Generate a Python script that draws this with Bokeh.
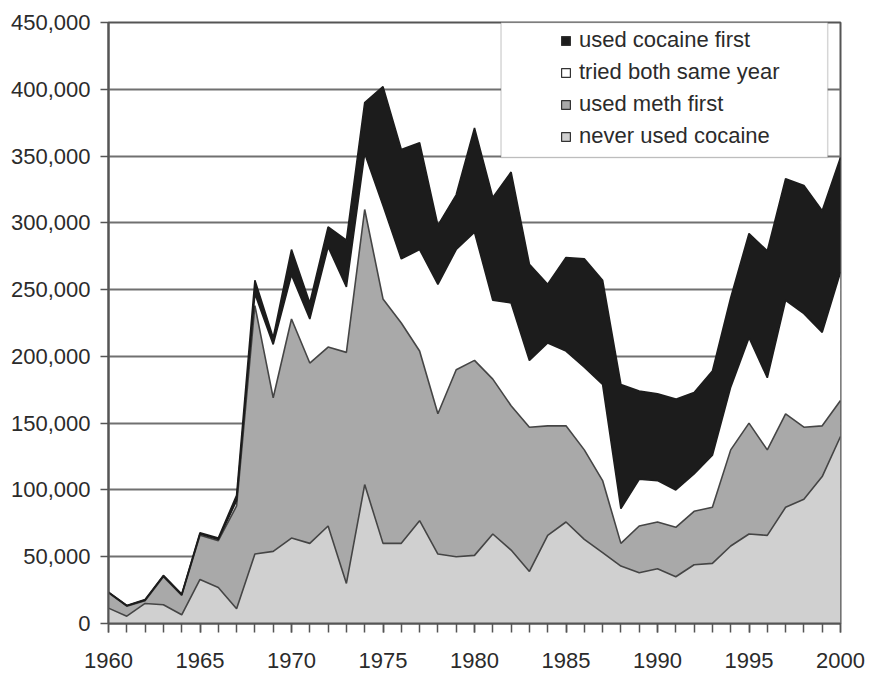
from bokeh.plotting import figure
from bokeh.models import (ColumnDataSource, FixedTicker, NumeralTickFormatter, Legend,
                          LegendItem, BoxAnnotation, Range1d)
from bokeh.transform import stack
from bokeh.embed import file_html
from bokeh.resources import INLINE

years = list(range(1960, 2001))
never_used_cocaine = [11500, 5500, 15000, 14000, 6500, 33000, 27000, 11000, 52000, 54000,
                      64000, 60000, 73000, 30000, 104000, 60000, 60000, 77000, 52000, 50000,
                      51000, 67000, 55000, 39000, 66000, 76000, 63000, 53000, 43000, 38000,
                      41000, 35000, 44000, 45000, 58000, 67000, 66000, 87000, 93000, 110000,
                      140000]
used_meth_first = [11500, 7500, 2000, 21000, 14500, 33000, 35000, 77000, 186000, 115000,
                   164000, 135000, 134000, 173000, 206000, 183000, 165000, 127000, 105000, 140000,
                   146000, 116000, 108000, 108000, 82000, 72000, 67000, 54000, 17000, 35000,
                   35000, 37000, 40000, 42000, 72000, 83000, 64000, 70000, 54000, 38000,
                   27000]
tried_both_same_year = [300, 300, 500, 500, 500, 1000, 1000, 4000, 9000, 40000,
                        33000, 33000, 75000, 49000, 42000, 70000, 48000, 76000, 97000, 90000,
                        96000, 59000, 77000, 50000, 62000, 56000, 62000, 72000, 26000, 35000,
                        31000, 28000, 28000, 39000, 47000, 64000, 54000, 85000, 85000, 70000,
                        96000]
used_cocaine_first = [200, 200, 500, 500, 500, 1000, 1000, 4000, 10000, 5000,
                      19000, 12000, 15000, 35000, 38000, 89000, 82000, 80000, 44000, 41000,
                      78000, 77000, 98000, 72000, 44000, 70000, 81000, 78000, 93000, 66000,
                      65000, 68000, 61000, 63000, 67000, 78000, 95000, 91000, 96000, 91000,
                      86000]

series_labels = ["never used cocaine", "used meth first", "tried both same year", "used cocaine first"]
series_cols = ["never", "meth", "both", "coke"]
series_colors = ["#d0d0d0", "#a9a9a9", "#ffffff", "#1c1c1c"]

y_ticks = list(range(0, 450001, 50000))
x_major = list(range(1960, 2001, 5))

source = ColumnDataSource(dict(year=years, never=never_used_cocaine, meth=used_meth_first,
                               both=tried_both_same_year, coke=used_cocaine_first))

FONT = "Liberation Sans"
TXT = "#2b2b2b"

p = figure(width=874, height=686, output_backend="svg", toolbar_location=None,
           x_range=Range1d(1960, 2000), y_range=Range1d(0, 450000),
           min_border_left=108, min_border_right=34, min_border_top=22, min_border_bottom=63)
p.background_fill_color = "white"
p.border_fill_color = "white"
p.outline_line_color = "#555555"
p.outline_line_width = 2

areas = p.varea_stack(stackers=series_cols, x="year", color=series_colors, source=source)

# boundary lines
p.line(x="year", y=stack("never"), source=source, line_color="#454545", line_width=1.6)
p.line(x="year", y=stack("never", "meth"), source=source, line_color="#454545", line_width=1.6)
p.line(x="year", y=stack("never", "meth", "both"), source=source, line_color="#1c1c1c", line_width=1.6)
p.line(x="year", y=stack("never", "meth", "both", "coke"), source=source, line_color="#1c1c1c", line_width=1.6)

# axes
p.xgrid.visible = False
p.ygrid.ticker = FixedTicker(ticks=y_ticks)
p.ygrid.grid_line_color = "#707070"
p.ygrid.grid_line_width = 2

p.yaxis.ticker = FixedTicker(ticks=y_ticks)
p.yaxis.formatter = NumeralTickFormatter(format="0,0")
p.xaxis.ticker = FixedTicker(ticks=x_major, minor_ticks=years)
for ax in (p.xaxis[0], p.yaxis[0]):
    ax.axis_line_color = "#555555"
    ax.axis_line_width = 2
    ax.major_tick_line_color = "#555555"
    ax.minor_tick_line_color = "#555555"
    ax.major_tick_line_width = 1.5
    ax.minor_tick_line_width = 1.5
    ax.major_tick_in = 0
    ax.minor_tick_in = 0
    ax.major_label_text_font = FONT
    ax.major_label_text_font_size = "22px"
    ax.major_label_text_color = TXT
p.yaxis.major_tick_out = 8
p.yaxis.minor_tick_out = 0
p.yaxis.major_label_standoff = 10
p.xaxis.major_tick_out = 9
p.xaxis.minor_tick_out = 9
p.xaxis.major_label_standoff = 20

# legend box
box = BoxAnnotation(left=1981.45, right=1999.3, bottom=349000, top=450000,
                    fill_color="white", fill_alpha=1.0, line_color="#777777", line_width=1.5)
p.add_layout(box)

nan = float("nan")
dummies = []
for col, c in zip(series_cols, series_colors):
    r = p.quad(left=[nan], right=[nan], top=[nan], bottom=[nan],
               fill_color=c, line_color="#333333", line_width=1.2)
    dummies.append(r)

items = [LegendItem(label=lab, renderers=[r]) for lab, r in zip(series_labels, dummies)]
items = items[::-1]
legend = Legend(items=items, location=(452, 474), orientation="vertical",
                glyph_width=11, glyph_height=11, label_height=20, spacing=6,
                padding=0, margin=0, label_standoff=8,
                label_text_font=FONT, label_text_font_size="22px", label_text_color=TXT,
                background_fill_alpha=0, border_line_alpha=0)
p.add_layout(legend)

open("out.html", "w").write(file_html(p, INLINE))
